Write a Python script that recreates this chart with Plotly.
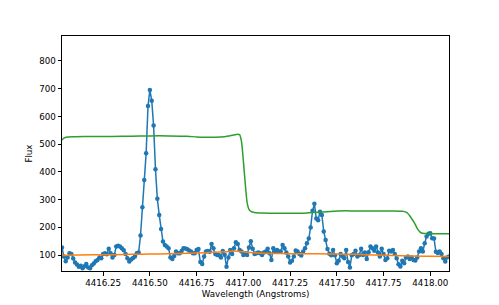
import numpy as np
import plotly.graph_objects as go

# Observed spectrum (blue), 0.01 Angstrom grid starting at 4416.03
wave_start = 4416.03
wave_step = 0.01
flux = [
    128, 95, 78, 92, 107, 104, 88, 74, 66, 58,
    62, 53, 60, 68, 56, 53, 64, 70, 78, 83,
    92, 89, 104, 107, 103, 123, 107, 92, 101, 131,
    134, 131, 125, 118, 104, 89, 77, 84, 90, 95,
    107, 110, 171, 273, 371, 467, 638, 695, 657, 567,
    410, 303, 245, 194, 149, 137, 131, 125, 92, 86,
    97, 113, 107, 107, 115, 125, 124, 121, 117, 113,
    107, 107, 119, 122, 75, 68, 95, 113, 115, 112,
    140, 125, 104, 101, 100, 92, 115, 102, 58, 92,
    119, 104, 125, 147, 140, 119, 113, 101, 107, 101,
    128, 150, 123, 104, 107, 110, 107, 101, 110, 113,
    123, 107, 83, 125, 113, 119, 113, 113, 137, 125,
    110, 95, 74, 80, 95, 117, 113, 104, 99, 113,
    125, 143, 160, 200, 260, 285, 232, 226, 257, 245,
    185, 155, 122, 105, 100, 119, 100, 71, 80, 104,
    95, 89, 119, 75, 56, 100, 104, 116, 95, 101,
    123, 101, 110, 86, 111, 131, 125, 116, 131, 110,
    95, 123, 104, 83, 89, 116, 113, 119, 104, 89,
    67, 59, 80, 71, 92, 95, 86, 92, 83, 81,
    92, 113, 125, 113, 143, 167, 177, 179, 161, 160,
    112, 108, 113, 104, 89, 77, 92, 95,
]
wave = np.round(wave_start + wave_step * np.arange(len(flux)), 2)

# Continuum (orange)
cont_wave = [4416.03, 4416.10, 4416.20, 4416.30, 4416.40, 4416.50, 4416.60,
             4416.70, 4416.80, 4416.90, 4416.95, 4417.00, 4417.05, 4417.10,
             4417.20, 4417.30, 4417.40, 4417.50, 4417.60, 4417.70, 4417.80,
             4417.90, 4418.00, 4418.10]
cont_flux = [99, 101, 102, 102, 103, 104, 105, 107, 109, 112, 115, 112, 109,
             107, 106, 105, 105, 104, 103, 101, 99, 97, 96, 95]

# Model (green)
model_wave = [4416.03, 4416.04, 4416.06, 4416.10, 4416.20, 4416.30, 4416.40,
              4416.50, 4416.60, 4416.70, 4416.75, 4416.80, 4416.85, 4416.90,
              4416.94, 4416.97, 4416.98, 4416.99, 4417.00, 4417.01, 4417.02,
              4417.03, 4417.04, 4417.06, 4417.10, 4417.20, 4417.30, 4417.35,
              4417.40, 4417.45, 4417.50, 4417.55, 4417.60, 4417.70, 4417.80,
              4417.85, 4417.87, 4417.88, 4417.89, 4417.90, 4417.91, 4417.92,
              4417.93, 4417.94, 4417.95, 4417.97, 4418.00, 4418.10]
model_flux = [515, 522, 526, 527, 528, 528, 529, 530, 530, 529, 526, 525, 525,
              527, 532, 536, 534, 510, 440, 360, 290, 265, 258, 254, 252, 251,
              251, 253, 255, 257, 259, 260, 259, 259, 259, 258, 255, 250, 242,
              232, 222, 210, 197, 187, 181, 178, 177, 177]

x_ticks = [4416.25, 4416.50, 4416.75, 4417.00, 4417.25, 4417.50, 4417.75, 4418.00]
y_ticks = [100, 200, 300, 400, 500, 600, 700, 800]

fig = go.Figure()
fig.add_trace(go.Scatter(x=wave, y=flux, mode="lines+markers",
                         line=dict(color="#1f77b4", width=1.5),
                         marker=dict(color="#1f77b4", size=4.5)))
fig.add_trace(go.Scatter(x=cont_wave, y=cont_flux, mode="lines",
                         line=dict(color="#ff7f0e", width=1.5, shape="spline")))
fig.add_trace(go.Scatter(x=model_wave, y=model_flux, mode="lines",
                         line=dict(color="#2ca02c", width=1.5, shape="spline", smoothing=0.6)))

font = dict(family="DejaVu Sans", size=8.7, color="#000000")
axis_common = dict(showline=True, mirror=True, linecolor="#000000", linewidth=1,
                   ticks="outside", ticklen=3.5, tickwidth=1, tickcolor="#000000",
                   showgrid=False, zeroline=False, tickfont=font, automargin=False)

fig.update_layout(
    template="none",
    width=499, height=305,
    margin=dict(l=62, r=50, t=36, b=34, autoexpand=False),
    paper_bgcolor="white", plot_bgcolor="white",
    showlegend=False,
    font=font,
    xaxis=dict(range=[4416.03, 4418.10], tickvals=x_ticks,
               ticktext=[f"{v:.2f}" for v in x_ticks],
               title=dict(text="Wavelength (Angstroms)", font=font, standoff=3),
               **axis_common),
    yaxis=dict(range=[43, 890], tickvals=y_ticks,
               ticktext=[str(v) for v in y_ticks],
               title=dict(text="Flux", font=font, standoff=5),
               **axis_common),
)

# Remove the browser's default body margin so the figure sits at the window origin.
fig.write_html(
    "out.html",
    config={"displayModeBar": False},
    post_script="document.body.style.margin='0';document.body.style.padding='0';"
                "document.body.style.overflow='hidden';",
)
